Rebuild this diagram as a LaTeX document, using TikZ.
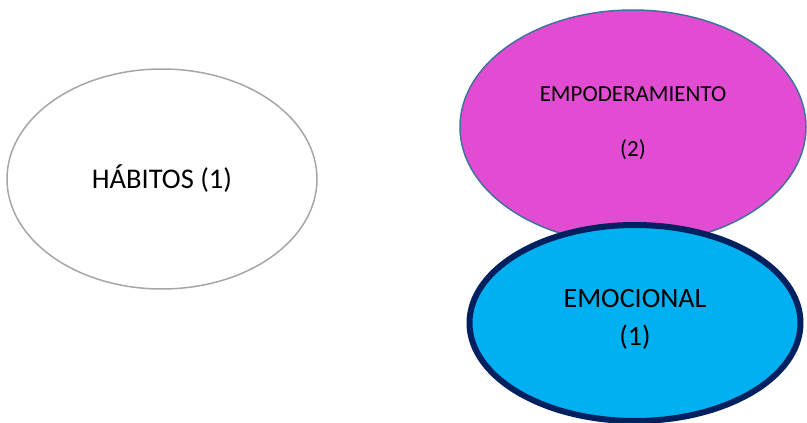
\documentclass[tikz,border=0pt]{standalone}
\usepackage{fontspec}
\setmainfont{Carlito}
\usetikzlibrary{shapes}
\definecolor{pinkfill}{HTML}{E24CD2}
\definecolor{pinkline}{HTML}{41719C}
\definecolor{cyanfill}{HTML}{00B0F0}
\definecolor{navyline}{HTML}{002060}
\definecolor{grayline}{HTML}{A6A6A6}
\tikzstyle{bubble}=[ellipse,align=center,inner sep=0pt]
\tikzstyle{plain bubble}=[bubble,draw=grayline,line width=1.5pt,fill=white,minimum width=310pt,minimum height=220pt,font=\fontsize{28.5}{34}\selectfont]
\tikzstyle{pink bubble}=[bubble,draw=pinkline,line width=1.5pt,fill=pinkfill,minimum width=346pt,minimum height=234pt,font=\fontsize{23}{28}\selectfont]
\tikzstyle{cyan bubble}=[bubble,draw=navyline,line width=6pt,fill=cyanfill,minimum width=331pt,minimum height=196pt,font=\fontsize{28}{38}\selectfont]

\begin{document}
\begin{tikzpicture}[x=1pt,y=-1pt]
    \useasboundingbox (0,0) rectangle (807,423);
    \node[plain bubble] (habitos) at (162,179) {HÁBITOS (1)};
    \node[pink bubble] (empoderamiento) at (633,127) {EMPODERAMIENTO\\[27pt](2)\\[-18pt]};
    \node[cyan bubble] (emocional) at (635,323) {EMOCIONAL\\(1)\\[-26pt]};
\end{tikzpicture}
\end{document}
